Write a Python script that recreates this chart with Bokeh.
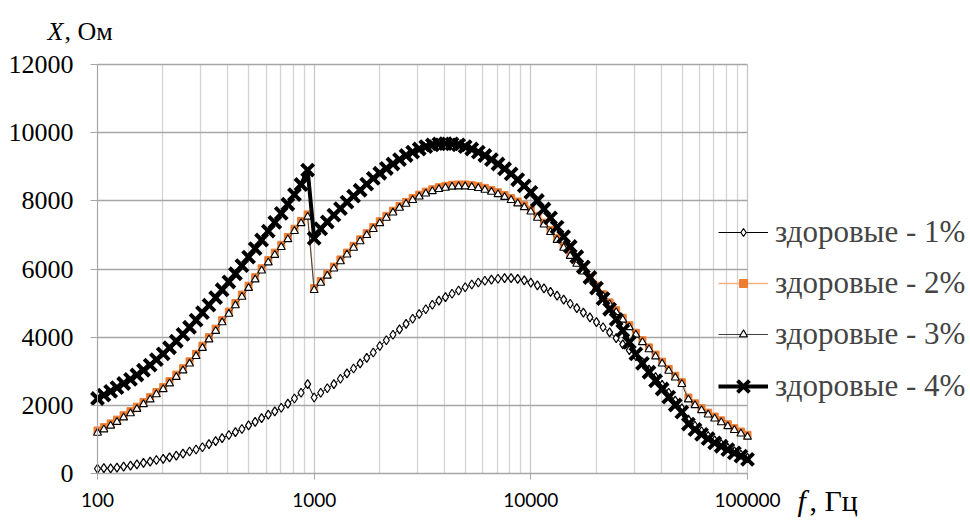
from bokeh.plotting import figure
from bokeh.models import FixedTicker, Legend, LegendItem, Label, PrintfTickFormatter, Range1d, Grid
from bokeh.embed import file_html
from bokeh.resources import INLINE

# Frequency grid, Hz
freq_hz = [100, 107, 115, 123, 132, 142, 152, 163, 175, 187, 201, 215, 231, 248, 266, 285,
           305, 327, 351, 376, 404, 433, 464, 498, 534, 572, 614, 658, 705, 756, 811, 870, 933,
           1000, 1072, 1150, 1233, 1322, 1417, 1520, 1630, 1748, 1874, 2009, 2154, 2310, 2477,
           2656, 2848, 3054, 3275, 3511, 3765, 4037, 4329, 4642, 4977, 5337, 5722, 6136, 6579,
           7055, 7565, 8111, 8697, 9326,
           10000, 10723, 11498, 12328, 13219, 14175, 15199, 16298, 17475, 18738, 20092, 21544,
           23101, 24771, 26561, 28480, 30539, 32745, 35112, 37649, 40370, 43288, 46416, 49770,
           53367, 57224, 61359, 65793, 70548, 75646, 81113, 86975, 93260, 100000]

# Reactance X, Ohm
x_1pct = [140, 160, 150, 170, 200, 230, 270, 310, 350, 395, 430, 475, 525, 585, 645, 705,
          770, 860, 950, 1040, 1130, 1215, 1305, 1410, 1515, 1625, 1725, 1825, 1930, 2050, 2200, 2370, 2620,
          2230, 2370, 2500, 2620, 2780, 2940, 3080, 3230, 3390, 3550, 3740, 3910, 4070, 4230,
          4390, 4540, 4680, 4820, 4950, 5070, 5175, 5275, 5370, 5465, 5545, 5605, 5655, 5690,
          5715, 5730, 5730, 5710, 5665,
          5600, 5520, 5430, 5330, 5220, 5100, 4980, 4850, 4720, 4580, 4440, 4290,
          4140, 3970, 3790, 3620, 3440, 3260, 3050, 2830, 2600, 2370, 2140, 1910,
          1580, 1400, 1240, 1100, 970, 860, 750, 650, 550, 460]

x_2pct = [1260, 1360, 1470, 1580, 1710, 1830, 1960, 2100, 2240, 2390, 2540, 2710, 2900, 3090, 3290, 3510,
          3750, 4000, 4250, 4500, 4750, 5000, 5250, 5510, 5760, 6020, 6260, 6480, 6710, 6940, 7180, 7410, 7600,
          5440, 5650, 5860, 6070, 6280, 6480, 6680, 6870, 7050, 7230, 7400, 7560, 7710, 7850,
          7970, 8080, 8180, 8270, 8340, 8400, 8440, 8470, 8480, 8480, 8460, 8430, 8380, 8320,
          8250, 8170, 8080, 7980, 7870,
          7740, 7560, 7360, 7140, 6910, 6680, 6440, 6210, 5980, 5750, 5510, 5260,
          5020, 4790, 4570, 4350, 4130, 3910, 3700, 3490, 3280, 3070, 2870, 2680,
          2230, 2060, 1915, 1785, 1670, 1560, 1445, 1330, 1230, 1135]

x_3pct = [1190, 1290, 1400, 1510, 1640, 1760, 1890, 2030, 2170, 2320, 2470, 2640, 2830, 3020, 3220, 3440,
          3680, 3930, 4180, 4430, 4680, 4930, 5180, 5440, 5690, 5950, 6190, 6410, 6640, 6870, 7110, 7340, 7530,
          5380, 5590, 5800, 6010, 6220, 6420, 6620, 6810, 6990, 7170, 7340, 7500, 7650, 7790,
          7910, 8020, 8120, 8210, 8280, 8340, 8380, 8410, 8420, 8420, 8400, 8370, 8320, 8260,
          8190, 8110, 8020, 7920, 7810,
          7680, 7500, 7300, 7080, 6850, 6620, 6380, 6150, 5920, 5690, 5450, 5200,
          4960, 4730, 4510, 4290, 4070, 3850, 3640, 3430, 3220, 3010, 2810, 2620,
          2170, 2000, 1855, 1725, 1610, 1500, 1385, 1270, 1170, 1075]

x_4pct = [2200, 2300, 2410, 2520, 2640, 2760, 2890, 3030, 3180, 3340, 3510, 3690, 3880, 4080, 4290, 4500,
          4720, 4940, 5160, 5390, 5620, 5860, 6100, 6350, 6600, 6850, 7110, 7370, 7630, 7900, 8180, 8480, 8900,
          6900, 7180, 7380, 7580, 7770, 7960, 8140, 8310, 8490, 8660, 8810, 8950, 9080, 9210,
          9330, 9430, 9520, 9590, 9640, 9670, 9680, 9670, 9640, 9590, 9520, 9430, 9330, 9210,
          9080, 8940, 8790, 8620, 8440,
          8250, 8010, 7760, 7500, 7230, 6950, 6660, 6360, 6060, 5750, 5440, 5130,
          4820, 4520, 4190, 3850, 3510, 3230, 2970, 2720, 2480, 2240, 2010, 1800,
          1450, 1290, 1150, 1025, 900, 800, 700, 605, 510, 415]

series_names = ["здоровые - 1%", "здоровые - 2%", "здоровые - 3%", "здоровые - 4%"]

x_major = [100, 1000, 10000, 100000]
x_minor = [m * d for d in (100, 1000, 10000) for m in range(2, 10)]
y_major = [0, 2000, 4000, 6000, 8000, 10000, 12000]

SERIF = "Liberation Serif"
W, H = 970, 521
# plot area inside the canvas (pixels): left, right, top, bottom
PL, PR, PT, PB = 97, 747, 64, 473
DEC_PX = (PR - PL) / 3.0            # pixels per decade
Y_PX = (PB - PT) / 12000.0          # pixels per ohm

# The frame spans the whole canvas so the legend and axis titles are not clipped;
# axes and grids are bounded to the data region.
x_range = Range1d(10 ** (2 - PL / DEC_PX), 10 ** (5 + (W - PR) / DEC_PX))
y_range = Range1d(-(H - PB) / Y_PX, 12000 + PT / Y_PX)

p = figure(width=W, height=H, x_axis_type="log", x_range=x_range, y_range=y_range,
           output_backend="svg", toolbar_location=None,
           min_border=0, min_border_left=0, min_border_right=0,
           min_border_top=0, min_border_bottom=0)
p.outline_line_color = None
p.background_fill_color = "white"
p.border_fill_color = "white"

# x axis
xa = p.xaxis[0]
xa.fixed_location = 0
xa.bounds = (100, 100000)
xa.ticker = FixedTicker(ticks=x_major, minor_ticks=x_minor)
xa.formatter = PrintfTickFormatter(format="%d")
xa.axis_line_color = "#a6a6a6"
xa.major_tick_line_color = "#a6a6a6"
xa.major_tick_in = 0
xa.major_tick_out = 6
xa.minor_tick_line_color = None
xa.major_label_text_font = "Lato"
xa.major_label_text_font_size = "19px"
xa.major_label_text_color = "black"
xa.major_label_standoff = 13

# y axis
ya = p.yaxis[0]
ya.fixed_location = 100
ya.bounds = (0, 12000)
ya.ticker = FixedTicker(ticks=y_major)
ya.axis_line_color = "#a6a6a6"
ya.major_tick_line_color = "#a6a6a6"
ya.major_tick_in = 0
ya.major_tick_out = 7
ya.minor_tick_line_color = None
ya.major_label_text_font = SERIF
ya.major_label_text_font_size = "26px"
ya.major_label_text_color = "black"
ya.major_label_standoff = 17

# grid
p.ygrid.grid_line_color = "#a6a6a6"
p.ygrid.grid_line_width = 1.3
p.xgrid.grid_line_color = "#c8c8c8"
p.xgrid.grid_line_width = 1.3
p.xgrid.minor_grid_line_color = "#d4d4d4"
p.xgrid.minor_grid_line_width = 1.3
p.xgrid.bounds = (100, 100000)
p.ygrid.bounds = (0, 12000)
if "cross_bounds" in Grid.properties():
    p.xgrid.cross_bounds = (0, 12000)
    p.ygrid.cross_bounds = (100, 100000)

# series
l1 = p.line(freq_hz, x_1pct, line_color="black", line_width=1)
m1 = p.scatter(freq_hz, x_1pct, marker="diamond", size=9,
               fill_color="white", line_color="black", line_width=1.2)

l2 = p.line(freq_hz, x_2pct, line_color="#f4b183", line_width=1.5)
m2 = p.scatter(freq_hz, x_2pct, marker="square", size=7,
               fill_color="#ed7d31", line_color="#ed7d31", line_width=1)

l3 = p.line(freq_hz, x_3pct, line_color="#404040", line_width=1)
m3 = p.scatter(freq_hz, x_3pct, marker="triangle", size=8,
               fill_color="white", line_color="black", line_width=1.1)

l4 = p.line(freq_hz, x_4pct, line_color="black", line_width=4)
m4 = p.scatter(freq_hz, x_4pct, marker="x", size=17, line_color="black", line_width=4)

legend_style = dict(orientation="vertical", background_fill_alpha=0, border_line_color=None,
                    label_text_font=SERIF, label_text_font_size="31px",
                    glyph_width=50, label_height=20, padding=0, margin=0, label_standoff=7)

# thin series: small markers
legend_a = Legend(items=[
    LegendItem(label=series_names[0], renderers=[l1, m1]),
    LegendItem(label=series_names[1], renderers=[l2, m2]),
    LegendItem(label=series_names[2], renderers=[l3, m3]),
], location=(718, 169), glyph_height=20, spacing=15, **legend_style)
# bold series: large cross marker
legend_b = Legend(items=[
    LegendItem(label=series_names[3], renderers=[l4, m4]),
], location=(718, 114), glyph_height=42, spacing=0, **legend_style)
p.add_layout(legend_a)
p.add_layout(legend_b)

# axis titles
for txt, xs, ys, size, style in [("X", 47, 490, "26px", "italic"), (", Ом", 64, 490, "26px", "normal"),
                                 ("f", 797, 21, "30px", "italic"), (", Гц", 809, 21, "30px", "normal")]:
    p.add_layout(Label(x=xs, y=ys, x_units="screen", y_units="screen", text=txt,
                       text_font=SERIF, text_font_style=style, text_font_size=size,
                       text_color="black", text_baseline="alphabetic"))

open("out.html", "w").write(file_html(p, INLINE))
